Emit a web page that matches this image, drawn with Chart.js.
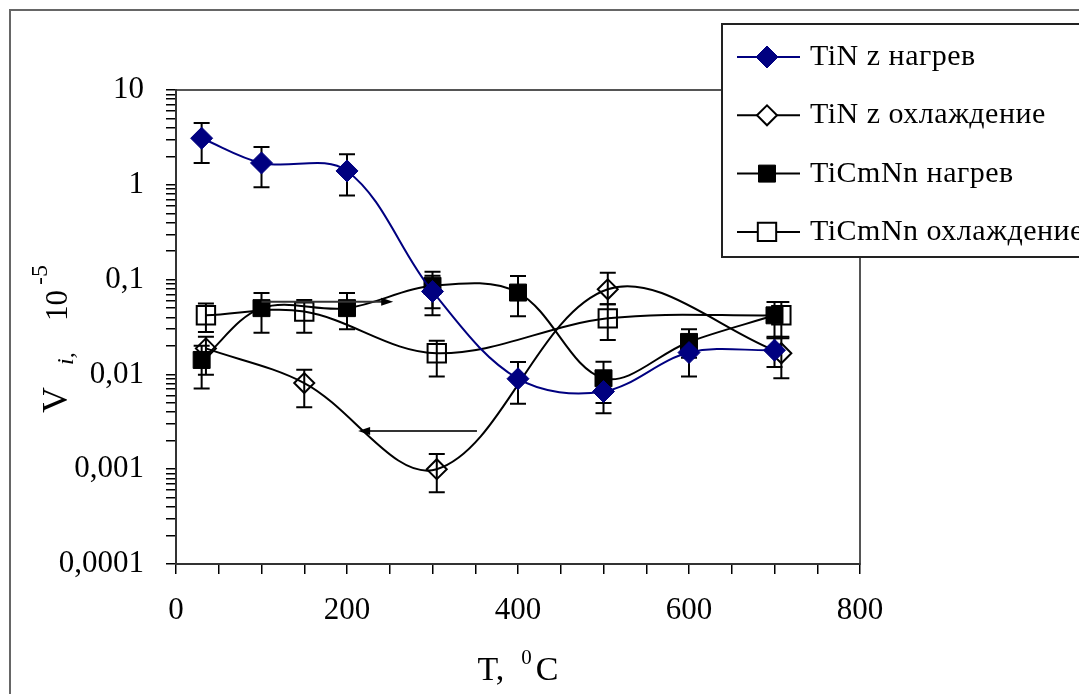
<!DOCTYPE html>
<html>
<head>
<meta charset="utf-8">
<script src="https://cdn.jsdelivr.net/npm/chart.js@4.4.0/dist/chart.umd.min.js"></script>
<style>
  html, body { margin: 0; padding: 0; background: #fff; }
  #wrap { width: 1079px; height: 694px; position: relative; }
</style>
</head>
<body>
<div id="wrap"><canvas id="chart" width="1079" height="694"></canvas></div>
<script>
// valeurs (T en °C, V en 10^-5)
const tinHeatT = [30, 100, 200, 300, 400, 500, 600, 700];
const tinHeatV = [3.1, 1.7, 1.4, 0.075, 0.009, 0.0066, 0.017, 0.018];
const tinHeatHi = [4.5, 2.5, 2.1, 0.11, 0.0135, 0.0095, 0.022, 0.025];
const tinHeatLo = [1.7, 0.94, 0.77, 0.05, 0.0049, 0.0039, 0.0095, 0.012];

const tinCoolT = [35, 150, 305, 505, 708];
const tinCoolV = [0.0188, 0.0081, 0.001, 0.079, 0.0167];
const tinCoolHi = [0.025, 0.0112, 0.00145, 0.118, 0.025];
const tinCoolLo = [0.0099, 0.0045, 0.00057, 0.055, 0.0091];

const ticnHeatT = [30, 100, 200, 300, 400, 500, 600, 700];
const ticnHeatV = [0.0142, 0.05, 0.05, 0.086, 0.073, 0.0091, 0.022, 0.042];
const ticnHeatHi = [0.02, 0.072, 0.072, 0.121, 0.109, 0.0136, 0.03, 0.058];
const ticnHeatLo = [0.0071, 0.0275, 0.03, 0.042, 0.041, 0.005, 0.015, 0.024];

const ticnCoolT = [35, 150, 305, 505, 708];
const ticnCoolV = [0.042, 0.046, 0.0167, 0.039, 0.042];
const ticnCoolHi = [0.056, 0.061, 0.0227, 0.055, 0.058];
const ticnCoolLo = [0.028, 0.0275, 0.0095, 0.023, 0.024];

// flèches dessinées sur le graphique (T, V)
const arrowHeatT = [100, 254];
const arrowHeatV = [0.0585, 0.0585];
const arrowCoolT = [352, 213];
const arrowCoolV = [0.00253, 0.00253];

// graduations
const yMajor = [0.0001, 0.001, 0.01, 0.1, 1, 10];
const yLabels = ['0,0001', '0,001', '0,01', '0,1', '1', '10'];
const xLabels = [0, 200, 400, 600, 800];

const seriesNames = ['TiN z нагрев', 'TiN z охлаждение', 'TiCmNn нагрев', 'TiCmNn охлаждение'];

const FONT = "'Liberation Serif', 'Times New Roman', serif";
Chart.defaults.font.family = FONT;
Chart.defaults.color = '#000';

function pts(xs, ys) {
  return xs.map((x, i) => ({ x: x, y: ys[i] }));
}

// graduations mineures du log : 2..9 dans chaque décade
const yAllTicks = [];
yMajor.forEach((m, i) => {
  yAllTicks.push(m);
  if (i < yMajor.length - 1) {
    for (let k = 2; k <= 9; k++) yAllTicks.push(m * k);
  }
});

// barres d'erreur
const errorBars = {
  id: 'errorBars',
  beforeDatasetsDraw(chart) {
    const ctx = chart.ctx;
    const ys = chart.scales.y;
    ctx.save();
    ctx.strokeStyle = '#000';
    ctx.lineWidth = 2;
    chart.data.datasets.forEach((ds, di) => {
      const meta = chart.getDatasetMeta(di);
      meta.data.forEach((p, i) => {
        const top = ys.getPixelForValue(ds.errHi[i]);
        const bot = ys.getPixelForValue(ds.errLo[i]);
        ctx.beginPath();
        ctx.moveTo(p.x, top); ctx.lineTo(p.x, bot);
        ctx.moveTo(p.x - 8, top); ctx.lineTo(p.x + 8, top);
        ctx.moveTo(p.x - 8, bot); ctx.lineTo(p.x + 8, bot);
        ctx.stroke();
      });
    });
    ctx.restore();
  }
};

function drawArrow(ctx, chart, xs, vs) {
  const sx = chart.scales.x, sy = chart.scales.y;
  const x0 = sx.getPixelForValue(xs[0]), y0 = sy.getPixelForValue(vs[0]);
  const x1 = sx.getPixelForValue(xs[1]), y1 = sy.getPixelForValue(vs[1]);
  const dir = Math.sign(x1 - x0);
  ctx.strokeStyle = '#333';
  ctx.lineWidth = 2;
  ctx.beginPath();
  ctx.moveTo(x0, y0); ctx.lineTo(x1 - dir * 6, y1);
  ctx.stroke();
  ctx.fillStyle = '#000';
  ctx.beginPath();
  ctx.moveTo(x1, y1);
  ctx.lineTo(x1 - dir * 12, y1 - 4);
  ctx.lineTo(x1 - dir * 12, y1 + 4);
  ctx.closePath();
  ctx.fill();
}

const decorations = {
  id: 'decorations',
  beforeDraw(chart) {
    const ctx = chart.ctx;
    ctx.save();
    ctx.fillStyle = '#fff';
    ctx.fillRect(0, 0, chart.width, chart.height);
    // cadre extérieur
    ctx.strokeStyle = '#666';
    ctx.lineWidth = 2;
    ctx.strokeRect(10, 10, chart.width + 20, chart.height + 20);
    // cadre de la zone de tracé
    const a = chart.chartArea;
    ctx.strokeStyle = '#555';
    ctx.strokeRect(a.left, a.top, a.right - a.left, a.bottom - a.top);
    ctx.restore();
  },
  afterDatasetsDraw(chart) {
    const ctx = chart.ctx;
    ctx.save();
    drawArrow(ctx, chart, arrowHeatT, arrowHeatV);
    drawArrow(ctx, chart, arrowCoolT, arrowCoolV);
    ctx.restore();
  },
  afterDraw(chart) {
    const ctx = chart.ctx;
    const a = chart.chartArea;
    ctx.save();
    ctx.fillStyle = '#000';
    ctx.textBaseline = 'alphabetic';

    // titre de l'axe X : T, 0C
    const big = '34px ' + FONT;
    const small = '21px ' + FONT;
    ctx.font = big;
    const w1 = ctx.measureText('T,  ').width;
    const w3 = ctx.measureText('C').width;
    ctx.font = small;
    const w2 = ctx.measureText('0').width;
    let x = (a.left + a.right) / 2 - (w1 + w2 + w3 + 4) / 2;
    const yb = 680;
    ctx.font = big; ctx.fillText('T,  ', x, yb); x += w1;
    ctx.font = small; ctx.fillText('0', x, yb - 16); x += w2 + 4;
    ctx.font = big; ctx.fillText('C', x, yb);

    // titre de l'axe Y : V i, 10 -5 (vertical)
    ctx.save();
    ctx.translate(67, 413);
    ctx.rotate(-Math.PI / 2);
    ctx.font = '36px ' + FONT;
    ctx.fillText('V', 0, 0);
    ctx.font = 'italic 24px ' + FONT;
    ctx.fillText('i,', 48, 6);
    ctx.font = '31px ' + FONT;
    ctx.fillText('10', 92, 0);
    ctx.font = '24px ' + FONT;
    ctx.fillText('-5', 128, -20);
    ctx.restore();

    // légende encadrée
    ctx.fillStyle = '#fff';
    ctx.strokeStyle = '#222';
    ctx.lineWidth = 2;
    ctx.fillRect(722, 24, 420, 233);
    ctx.strokeRect(722, 24, 420, 233);
    chart.data.datasets.forEach((ds, i) => {
      const cy = 57 + i * 58.3;
      ctx.strokeStyle = ds.borderColor;
      ctx.lineWidth = 2;
      ctx.beginPath();
      ctx.moveTo(737, cy); ctx.lineTo(800, cy);
      ctx.stroke();
      ctx.fillStyle = ds.pointBackgroundColor === 'rgba(0,0,0,0)' ? '#fff' : ds.pointBackgroundColor;
      ctx.strokeStyle = ds.pointBorderColor;
      ctx.lineWidth = ds.pointBorderWidth;
      Chart.helpers.drawPoint(ctx, {
        pointStyle: ds.pointStyle,
        radius: ds.pointRadius,
        rotation: 0,
        borderWidth: ds.pointBorderWidth
      }, 767, cy);
      ctx.fillStyle = '#000';
      ctx.font = '30px ' + FONT;
      ctx.letterSpacing = '0.5px';
      ctx.fillText(ds.label, 810, cy + 8);
      ctx.letterSpacing = '0px';
    });
    ctx.restore();
  }
};

const chart = new Chart(document.getElementById('chart'), {
  type: 'line',
  data: {
    datasets: [
      {
        label: seriesNames[0],
        data: pts(tinHeatT, tinHeatV),
        errHi: tinHeatHi, errLo: tinHeatLo,
        borderColor: '#000080',
        borderWidth: 2,
        tension: 0.35,
        pointStyle: 'rectRot',
        pointRadius: 11,
        pointBackgroundColor: '#000080',
        pointBorderColor: '#000080',
        pointBorderWidth: 1
      },
      {
        label: seriesNames[1],
        data: pts(tinCoolT, tinCoolV),
        errHi: tinCoolHi, errLo: tinCoolLo,
        borderColor: '#000',
        borderWidth: 2,
        tension: 0.35,
        pointStyle: 'rectRot',
        pointRadius: 10,
        pointBackgroundColor: 'rgba(0,0,0,0)',
        pointBorderColor: '#000',
        pointBorderWidth: 2
      },
      {
        label: seriesNames[2],
        data: pts(ticnHeatT, ticnHeatV),
        errHi: ticnHeatHi, errLo: ticnHeatLo,
        borderColor: '#000',
        borderWidth: 2,
        tension: 0.35,
        pointStyle: 'rect',
        pointRadius: 12,
        pointBackgroundColor: '#000',
        pointBorderColor: '#000',
        pointBorderWidth: 1
      },
      {
        label: seriesNames[3],
        data: pts(ticnCoolT, ticnCoolV),
        errHi: ticnCoolHi, errLo: ticnCoolLo,
        borderColor: '#000',
        borderWidth: 2,
        tension: 0.35,
        pointStyle: 'rect',
        pointRadius: 13,
        pointBackgroundColor: 'rgba(0,0,0,0)',
        pointBorderColor: '#000',
        pointBorderWidth: 2
      }
    ]
  },
  options: {
    responsive: false,
    animation: false,
    devicePixelRatio: 1,
    layout: { padding: { left: 0, right: 219, top: 90, bottom: 0 } },
    plugins: {
      legend: { display: false },
      tooltip: { enabled: false }
    },
    scales: {
      x: {
        type: 'linear',
        min: 0,
        max: 800,
        afterBuildTicks: (scale) => {
          const t = [];
          for (let v = 0; v <= 800; v += 50) t.push({ value: v });
          scale.ticks = t;
        },
        afterFit: (scale) => { scale.height = 130; },
        ticks: {
          autoSkip: false,
          maxRotation: 0,
          padding: 18,
          font: { size: 31 },
          callback: (v) => (xLabels.includes(v) ? String(v) : '')
        },
        grid: { drawOnChartArea: false, drawTicks: true, tickLength: 10, color: '#000', lineWidth: 1.5 },
        border: { display: true, color: '#333', width: 2 }
      },
      y: {
        type: 'logarithmic',
        min: 0.0001,
        max: 10,
        afterBuildTicks: (scale) => {
          scale.ticks = yAllTicks.map((v) => ({ value: v }));
        },
        afterFit: (scale) => { scale.width = 176; },
        ticks: {
          autoSkip: false,
          padding: 22,
          font: { size: 31 },
          callback: (v) => {
            const i = yMajor.findIndex((m) => Math.abs(m - v) / m < 1e-6);
            return i >= 0 ? yLabels[i] : '';
          }
        },
        grid: { drawOnChartArea: false, drawTicks: true, tickLength: 10, color: '#000', lineWidth: 1.5 },
        border: { display: true, color: '#333', width: 2 }
      }
    }
  },
  plugins: [errorBars, decorations]
});
</script>
</body>
</html>
